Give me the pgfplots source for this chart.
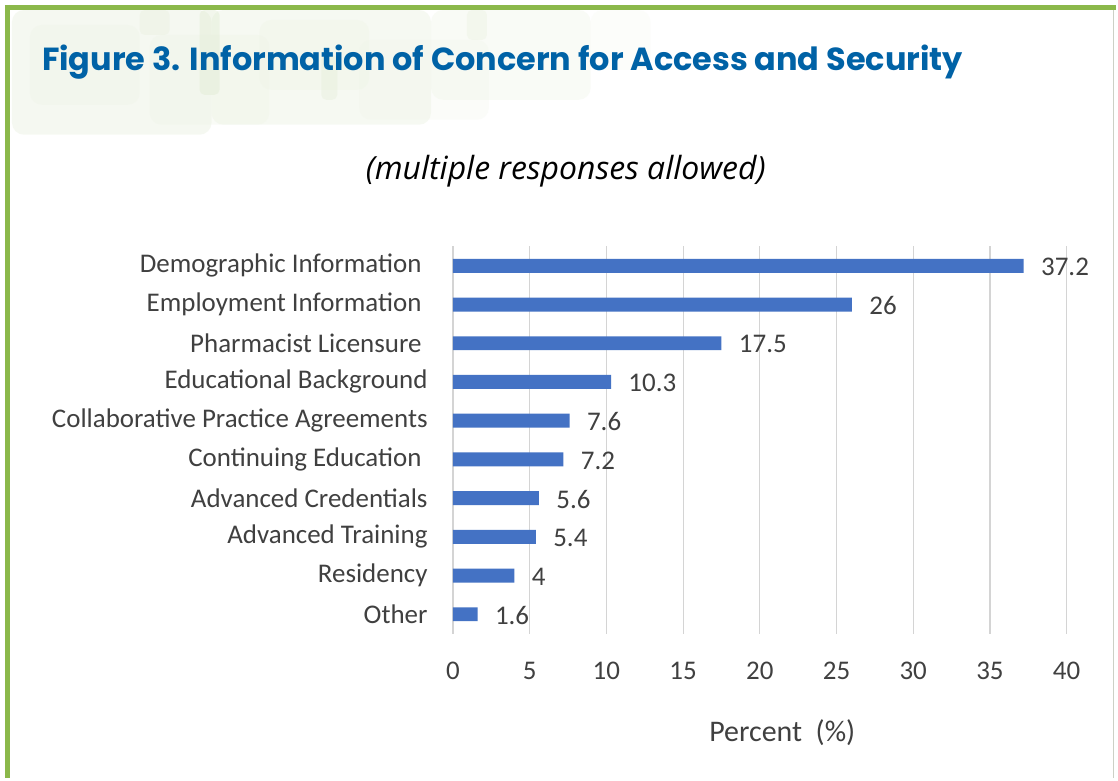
\documentclass[border=0pt]{standalone}
\usepackage{fontspec}
\usepackage{pgfplots}
\pgfplotsset{compat=1.18}
\setmainfont{Carlito}
\newfontfamily\titlefont{Poppins}
\newfontfamily\subfont{Open Sans}

\definecolor{barblue}{HTML}{4472C4}
\definecolor{titleblue}{HTML}{0062A6}
\definecolor{framegreen}{HTML}{8BB84A}
\definecolor{deco}{HTML}{EDF3E4}
\definecolor{decodark}{HTML}{DCE8CB}
\definecolor{labelgray}{HTML}{404040}

\begin{document}
\begin{tikzpicture}[x=1pt,y=1pt]
% page and frame
\fill[white] (0,0) rectangle (1118,-780);
% faint decoration behind the title
\foreach \x/\y/\w/\h/\o in {12/-10/200/125/0.5, 212/-10/220/115/0.45, 432/-10/160/90/0.3, 592/-10/60/60/0.15,
  30/-25/110/80/0.3, 150/-35/120/90/0.3, 260/-20/110/70/0.3, 360/-40/130/80/0.2}
  \fill[deco, opacity=\o, rounded corners=12] (\x,\y) rectangle ++(\w,-\h);
\foreach \x/\y/\w/\h/\o in {200/-10/20/85/0.35, 322/-55/16/45/0.25, 468/-10/20/30/0.2, 140/-10/30/25/0.2}
  \fill[decodark, opacity=\o, rounded corners=5] (\x,\y) rectangle ++(\w,-\h);
\draw[framegreen, line width=5] (5,-7.5) -- (1118,-7.5);
\draw[framegreen, line width=5] (7.5,-5) -- (7.5,-780);
\draw[deco!70!gray, line width=1.5] (1116,-10) -- (1116,-780);

\node[anchor=base west, inner sep=0, text=titleblue, font=\titlefont\bfseries\fontsize{32}{36}\selectfont]
  at (42,-71) {Figure 3. Information of Concern for Access and Security};
\node[anchor=base, inner sep=0, text=black, font=\subfont\itshape\fontsize{32}{36}\selectfont]
  at (567,-180) {(multiple responses allowed)};
\node[anchor=base, inner sep=0, text=labelgray, font=\fontsize{30}{34}\selectfont]
  at (784,-743) {Percent\ \ (\%)};

\begin{axis}[
  at={(454pt,-635pt)}, anchor=south west,
  scale only axis, width=615pt, height=388pt,
  xbar, bar width=14pt,
  xmin=0, xmax=40, ymin=-0.5, ymax=9.5, y dir=reverse,
  xtick={0,5,...,40}, ytick={0,...,9},
  yticklabels={Demographic Information\kern6pt, Employment Information\kern6pt, Pharmacist Licensure\kern6pt,
    Educational Background, Collaborative Practice Agreements, Continuing Education\kern6pt,
    Advanced Credentials, Advanced Training, Residency, Other},
  xmajorgrids, grid style={draw=black!17, line width=1.2pt},
  axis line style={draw=none}, major tick length=0pt,
  /pgf/number format/assume math mode=true,
  ticklabel style={font=\fontsize{27}{31}\selectfont, text=labelgray},
  xticklabel style={yshift=-25pt},
  yticklabel style={xshift=-22pt},
  nodes near coords,
  nodes near coords style={font=\fontsize{27}{31}\selectfont, text=labelgray, anchor=west, xshift=14pt, yshift=-1pt},
  clip=false,
]
\addplot[fill=barblue, draw=none] coordinates {(37.2,0) (26,1) (17.5,2) (10.3,3) (7.6,4) (7.2,5) (5.6,6) (5.4,7) (4,8) (1.6,9)};
\end{axis}
\end{tikzpicture}
\end{document}
